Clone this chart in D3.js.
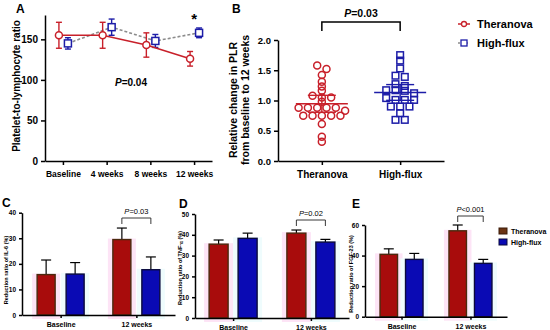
<!DOCTYPE html>
<html>
<head>
<meta charset="utf-8">
<script src="https://cdn.jsdelivr.net/npm/d3@7"></script>
<style>
body { margin: 0; background: #fff; }
text { font-family: Arial, "Liberation Sans", sans-serif; fill: #000; }
.axis path, .axis line { stroke: #000; stroke-width: 1.5; }
.axis text { font-weight: bold; }
</style>
</head>
<body>
<svg id="chart" width="550" height="330"></svg>
<script>
// ---- data ----
const timepoints = ["Baseline", "4 weeks", "8 weeks", "12 weeks"];
const plrTheranova = [155, 155, 143, 126];
const plrTheranovaErr = [16, 16, 15, 9];
const plrHighflux = [145, 165, 148, 158];
const plrHighfluxErr = [7, 10, 8, 6];

const groupsB = ["Theranova", "High-flux"];
const changeTheranova = [1.58, 1.52, 1.42, 1.31, 1.23, 1.16, 1.08, 1.05, 1.05, 0.98,
    0.88, 0.88, 0.88, 0.88, 0.88, 0.83, 0.75, 0.75, 0.75, 0.75, 0.75, 0.61, 0.40, 0.32];
const changeHighflux = [1.75, 1.66, 1.53, 1.41, 1.39, 1.27, 1.24, 1.17, 1.17, 1.16, 1.12,
    1.04, 1.01, 1.01, 1.01, 0.90, 0.90, 0.90, 0.79, 0.68, 0.68];
const changeErr = [0.14, 0.13];

const bottomGroups = ["Baseline", "12 weeks"];
const seriesNames = ["Theranova", "High-flux"];
const il6Theranova = [15.8, 29.5];
const il6TheranovaErr = [5.7, 4.5];
const il6Highflux = [16.0, 17.7];
const il6HighfluxErr = [4.5, 5.0];
const tnfTheranova = [35.5, 40.8];
const tnfTheranovaErr = [2.0, 1.5];
const tnfHighflux = [38.3, 36.5];
const tnfHighfluxErr = [2.5, 1.3];
const fgfTheranova = [40.8, 56.2];
const fgfTheranovaErr = [3.6, 3.8];
const fgfHighflux = [37.5, 34.9];
const fgfHighfluxErr = [3.9, 2.6];

const red = "#c8202a";
const blue = "#1d1da8";
const barRed = "#a80c0c";
const barBlue = "#0a0ab4";

const svg = d3.select("#chart");
svg.append("rect").attr("width", 550).attr("height", 330).attr("fill", "#fff");

function panelLabel(txt, x, y) {
    svg.append("text")
        .attr("x", x)
        .attr("y", y)
        .attr("font-size", "12px")
        .attr("font-weight", "bold")
        .text(txt);
}

function pText(g, x, y, rest, size, weight) {
    const t = g.append("text")
        .attr("x", x)
        .attr("y", y)
        .attr("text-anchor", "middle")
        .attr("font-size", size)
        .attr("font-weight", weight);
    t.append("tspan").attr("font-style", "italic").text("P");
    t.append("tspan").text(rest);
}

// ---------- Panel A ----------
function drawPanelA() {
    const g = svg.append("g").attr("id", "panel-a");
    const x = d3.scalePoint().domain(timepoints).range([45, 212]).padding(0.41);
    const y = d3.scaleLinear().domain([0, 180]).range([161, 15]);

    g.append("g").attr("class", "axis")
        .attr("transform", "translate(45,0)")
        .call(d3.axisLeft(y).tickValues([0, 50, 100, 150]).tickSize(4).tickSizeOuter(0))
        .selectAll("text").attr("font-size", "10px");

    g.append("g").attr("class", "axis")
        .attr("transform", "translate(0,161)")
        .call(d3.axisBottom(x).tickSize(4).tickSizeOuter(0))
        .selectAll("text").attr("font-size", "8.5px").attr("dy", "1em");

    g.append("text")
        .attr("transform", "translate(20,86) rotate(-90)")
        .attr("text-anchor", "middle")
        .attr("font-size", "10px")
        .attr("font-weight", "bold")
        .text("Platelet-to-lymphocyte ratio");

    const series = [
        { vals: plrHighflux, err: plrHighfluxErr, off: 5, col: blue, shape: "square", dash: "3,2", line: "#8c8c8c" },
        { vals: plrTheranova, err: plrTheranovaErr, off: -4, col: red, shape: "circle", dash: null, line: red }
    ];

    series.forEach(function (s) {
        const pts = timepoints.map((t, i) => [x(t) + s.off, y(s.vals[i]), i]);

        g.append("path")
            .attr("d", d3.line()(pts.map(p => [p[0], p[1]])))
            .attr("fill", "none")
            .attr("stroke", s.line)
            .attr("stroke-width", 1.6)
            .attr("stroke-dasharray", s.dash);

        pts.forEach(function (p) {
            const i = p[2];
            const top = y(s.vals[i] + s.err[i]);
            const bot = y(s.vals[i] - s.err[i]);
            g.append("line").attr("x1", p[0]).attr("x2", p[0]).attr("y1", top).attr("y2", bot)
                .attr("stroke", s.col).attr("stroke-width", 1.4);
            [top, bot].forEach(function (yy) {
                g.append("line").attr("x1", p[0] - 3).attr("x2", p[0] + 3).attr("y1", yy).attr("y2", yy)
                    .attr("stroke", s.col).attr("stroke-width", 1.4);
            });
            if (s.shape === "circle") {
                g.append("circle").attr("cx", p[0]).attr("cy", p[1]).attr("r", 3.5)
                    .attr("fill", "#fff").attr("stroke", s.col).attr("stroke-width", 1.5);
            } else {
                g.append("rect").attr("x", p[0] - 3.5).attr("y", p[1] - 3.5).attr("width", 7).attr("height", 7)
                    .attr("fill", "#fff").attr("stroke", s.col).attr("stroke-width", 1.5);
            }
        });
    });

    pText(g, 131, 86, "=0.04", "10px", "bold");

    g.append("text")
        .attr("x", x("12 weeks"))
        .attr("y", 24)
        .attr("text-anchor", "middle")
        .attr("font-size", "15px")
        .attr("font-weight", "bold")
        .text("*");
}

// scatter-dot layout: close values share a row, rows are centred on the group
function swarm(values, yScale, spacing, tol) {
    const sorted = values.map(v => ({ v: v, y: yScale(v) })).sort((a, b) => a.y - b.y);
    const rows = [];
    sorted.forEach(function (p) {
        const row = rows[rows.length - 1];
        if (row && p.y - row[0].y < tol) row.push(p);
        else rows.push([p]);
    });
    const out = [];
    rows.forEach(function (row) {
        row.forEach(function (p, i) {
            p.dx = (i - (row.length - 1) / 2) * spacing;
            out.push(p);
        });
    });
    return out;
}

// ---------- Panel B ----------
function drawPanelB() {
    const g = svg.append("g").attr("id", "panel-b");
    const x = d3.scalePoint().domain(groupsB).range([278, 444]).padding(0.56);
    const y = d3.scaleLinear().domain([0, 2]).range([161, 40]);

    g.append("g").attr("class", "axis")
        .attr("transform", "translate(278,0)")
        .call(d3.axisLeft(y).tickValues([0, 0.5, 1, 1.5, 2]).tickFormat(d3.format(".1f")).tickSize(4).tickSizeOuter(0))
        .selectAll("text").attr("font-size", "9.5px");

    g.append("g").attr("class", "axis")
        .attr("transform", "translate(0,161)")
        .call(d3.axisBottom(x).tickSize(4).tickSizeOuter(0))
        .selectAll("text").attr("font-size", "10px").attr("dy", "1em");

    const title = g.append("text")
        .attr("transform", "translate(237,100) rotate(-90)")
        .attr("text-anchor", "middle")
        .attr("font-size", "10.5px")
        .attr("font-weight", "bold");
    title.append("tspan").attr("x", 0).attr("dy", 0).text("Relative change in PLR");
    title.append("tspan").attr("x", 0).attr("dy", "1.15em").text("from baseline to 12 weeks");

    const groups = [
        { name: "Theranova", vals: changeTheranova, err: changeErr[0], col: red, shape: "circle" },
        { name: "High-flux", vals: changeHighflux, err: changeErr[1], col: blue, shape: "square" }
    ];

    groups.forEach(function (s) {
        const cx = x(s.name);
        const pts = swarm(s.vals, y, 9.3, 4);
        pts.forEach(function (p) {
            if (s.shape === "circle") {
                g.append("circle").attr("cx", cx + p.dx).attr("cy", p.y).attr("r", 3.5)
                    .attr("fill", "none").attr("stroke", s.col).attr("stroke-width", 1.5);
            } else {
                g.append("rect").attr("x", cx + p.dx - 3.3).attr("y", p.y - 3.3).attr("width", 6.6).attr("height", 6.6)
                    .attr("fill", "none").attr("stroke", s.col).attr("stroke-width", 1.5);
            }
        });
        const m = d3.mean(s.vals);
        g.append("line").attr("x1", cx - 26).attr("x2", cx + 26).attr("y1", y(m)).attr("y2", y(m))
            .attr("stroke", s.col).attr("stroke-width", 1.6);
        [m - s.err, m + s.err].forEach(function (v) {
            g.append("line").attr("x1", cx - 14).attr("x2", cx + 14).attr("y1", y(v)).attr("y2", y(v))
                .attr("stroke", s.col).attr("stroke-width", 1.4);
        });
        g.append("line").attr("x1", cx).attr("x2", cx).attr("y1", y(m - s.err)).attr("y2", y(m + s.err))
            .attr("stroke", s.col).attr("stroke-width", 1.4);
    });

    // significance bracket
    const x1 = x("Theranova"), x2 = x("High-flux");
    g.append("path")
        .attr("d", `M${x1},31V22H${x2}V31`)
        .attr("fill", "none").attr("stroke", "#000").attr("stroke-width", 1.5);
    pText(g, (x1 + x2) / 2, 17, "=0.03", "10.5px", "bold");

    // legend
    const leg = g.append("g").attr("transform", "translate(458,0)");
    leg.append("line").attr("x1", 0).attr("x2", 12).attr("y1", 24).attr("y2", 24).attr("stroke", red).attr("stroke-width", 1.5);
    leg.append("circle").attr("cx", 6).attr("cy", 24).attr("r", 2.5).attr("fill", "#fff").attr("stroke", red).attr("stroke-width", 1.3);
    leg.append("text").attr("x", 19).attr("y", 28).attr("font-size", "11px").attr("font-weight", "bold").text("Theranova");
    leg.append("line").attr("x1", 0).attr("x2", 12).attr("y1", 43).attr("y2", 43).attr("stroke", "#8c8c8c").attr("stroke-width", 1.5).attr("stroke-dasharray", "2,2");
    leg.append("rect").attr("x", 3).attr("y", 40).attr("width", 6).attr("height", 6).attr("fill", "#fff").attr("stroke", blue).attr("stroke-width", 1.3);
    leg.append("text").attr("x", 19).attr("y", 47).attr("font-size", "11px").attr("font-weight", "bold").text("High-flux");
}

// ---------- Panels C, D, E ----------
function drawBars(cfg) {
    const g = svg.append("g").attr("id", cfg.id);
    const x = d3.scalePoint().domain(bottomGroups).range(cfg.xRange).padding(cfg.pad);
    const inner = d3.scaleBand().domain(seriesNames)
        .range([-(cfg.bw + cfg.gap / 2), cfg.bw + cfg.gap / 2]).paddingInner(cfg.gap / (cfg.bw + cfg.gap));
    const y = d3.scaleLinear().domain([0, cfg.max]).range(cfg.yRange);
    const base = cfg.yRange[0];

    const series = [
        { name: "Theranova", vals: cfg.thera, err: cfg.theraErr, fill: barRed, stroke: "#4a2a0e", glow: "#fde4f6" },
        { name: "High-flux", vals: cfg.hf, err: cfg.hfErr, fill: barBlue, stroke: "#0a0a3c", glow: "#effcfd" }
    ];

    // faint halo behind the bars, as in the scanned figure
    series.forEach(function (s) {
        bottomGroups.forEach(function (grp, i) {
            const bx = x(grp) + inner(s.name);
            g.append("rect")
                .attr("x", bx - 5).attr("y", y(s.vals[i]) - 1)
                .attr("width", inner.bandwidth() + 10).attr("height", base - y(s.vals[i]) + 5)
                .attr("fill", s.glow);
        });
    });

    series.forEach(function (s) {
        bottomGroups.forEach(function (grp, i) {
            const bx = x(grp) + inner(s.name);
            const cx = bx + inner.bandwidth() / 2;
            const top = y(s.vals[i] + s.err[i]);
            g.append("line").attr("x1", cx).attr("x2", cx).attr("y1", y(s.vals[i])).attr("y2", top)
                .attr("stroke", "#000").attr("stroke-width", 1.2);
            g.append("line").attr("x1", cx - 5).attr("x2", cx + 5).attr("y1", top).attr("y2", top)
                .attr("stroke", "#000").attr("stroke-width", 1.2);
            g.append("rect")
                .attr("x", bx).attr("y", y(s.vals[i]))
                .attr("width", inner.bandwidth()).attr("height", base - y(s.vals[i]))
                .attr("fill", s.fill).attr("stroke", s.stroke).attr("stroke-width", 1.4);
        });
    });

    g.append("g").attr("class", "axis")
        .attr("transform", `translate(${cfg.xRange[0]},0)`)
        .call(d3.axisLeft(y).tickValues(cfg.ticks).tickSize(3).tickSizeOuter(0))
        .call(a => a.selectAll("path, line").attr("stroke-width", 1.2))
        .selectAll("text").attr("font-size", "6.5px");

    g.append("g").attr("class", "axis")
        .attr("transform", `translate(0,${base})`)
        .call(d3.axisBottom(x).tickSize(3).tickSizeOuter(0))
        .call(a => a.selectAll("path, line").attr("stroke-width", 1.2))
        .selectAll("text").attr("font-size", "7px").attr("dy", "0.9em");

    const t = g.append("text")
        .attr("transform", `translate(${cfg.titleX},${cfg.titleY}) rotate(-90)`)
        .attr("text-anchor", "middle")
        .attr("font-size", "5.5px")
        .attr("font-weight", "bold");
    t.append("tspan").text(cfg.title);
    if (cfg.titleSub) {
        t.append("tspan").attr("font-size", "4.5px").attr("dy", "1.3").text(cfg.titleSub);
        t.append("tspan").attr("dy", "-1.3").text(" (%)");
    }

    // bracket over 12 weeks
    const gx = x("12 weeks");
    const b1 = gx + inner("Theranova") + inner.bandwidth() / 2;
    const b2 = gx + inner("High-flux") + inner.bandwidth() / 2;
    g.append("path")
        .attr("d", `M${b1},${cfg.bracketY + 6}V${cfg.bracketY}H${b2}V${cfg.bracketY + 6}`)
        .attr("fill", "none").attr("stroke", "#222").attr("stroke-width", 0.9);
    pText(g, (b1 + b2) / 2, cfg.bracketY - 4, cfg.p, "7.5px", "normal");
}

drawPanelA();
drawPanelB();

drawBars({
    id: "panel-c", xRange: [22, 175], pad: 0.51, bw: 18, gap: 11,
    yRange: [315, 212.7], max: 40, ticks: [0, 10, 20, 30, 40],
    thera: il6Theranova, theraErr: il6TheranovaErr, hf: il6Highflux, hfErr: il6HighfluxErr,
    title: "Reduction ratio of IL-6 (%)", titleX: 8, titleY: 270,
    bracketY: 218, p: "=0.03"
});
drawBars({
    id: "panel-d", xRange: [195, 349], pad: 0.49, bw: 19, gap: 10,
    yRange: [318, 214], max: 50, ticks: [0, 10, 20, 30, 40, 50],
    thera: tnfTheranova, theraErr: tnfTheranovaErr, hf: tnfHighflux, hfErr: tnfHighfluxErr,
    title: "Reduction ratio of TNF-", titleSub: "α", titleX: 182, titleY: 268,
    bracketY: 220, p: "=0.02"
});
drawBars({
    id: "panel-e", xRange: [365, 507], pad: 0.53, bw: 17.5, gap: 8,
    yRange: [316.7, 225], max: 60, ticks: [0, 20, 40, 60],
    thera: fgfTheranova, theraErr: fgfTheranovaErr, hf: fgfHighflux, hfErr: fgfHighfluxErr,
    title: "Reduction ratio of FGF-23 (%)", titleX: 353, titleY: 274,
    bracketY: 216, p: "<0.001"
});

// legend for C-E
const legE = svg.append("g").attr("transform", "translate(499,228)");
legE.append("rect").attr("x", 0).attr("y", 0).attr("width", 8).attr("height", 6).attr("fill", "#6b3414").attr("stroke", "#3a1a08");
legE.append("text").attr("x", 12).attr("y", 6).attr("font-size", "7px").attr("font-weight", "bold").text("Theranova");
legE.append("rect").attr("x", 0).attr("y", 11).attr("width", 8).attr("height", 6).attr("fill", barBlue).attr("stroke", "#0a0a3c");
legE.append("text").attr("x", 12).attr("y", 17).attr("font-size", "7px").attr("font-weight", "bold").text("High-flux");

panelLabel("A", 16, 13);
panelLabel("B", 232, 13);
panelLabel("C", 2, 207);
panelLabel("D", 179, 208);
panelLabel("E", 352, 208);
</script>
</body>
</html>
